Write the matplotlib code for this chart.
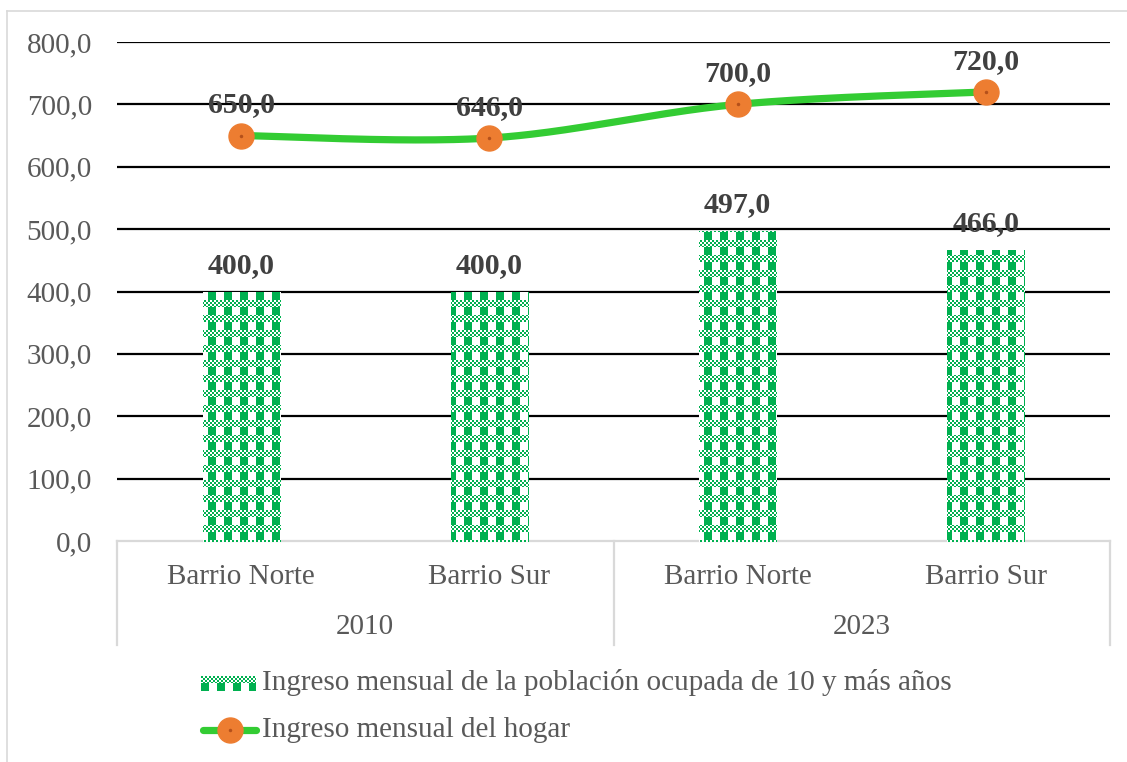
import matplotlib.pyplot as plt
import numpy as np
from matplotlib.lines import Line2D

categorias = ["Barrio Norte", "Barrio Sur", "Barrio Norte", "Barrio Sur"]
anios = ["2010", "2023"]
ingreso_ocupada = [400.0, 400.0, 497.0, 466.0]
ingreso_hogar = [650.0, 646.0, 700.0, 720.0]
y_ticks = [0, 100, 200, 300, 400, 500, 600, 700, 800]
serie_barras = "Ingreso mensual de la población ocupada de 10 y más años"
serie_linea = "Ingreso mensual del hogar"

W, H = 1127, 762
VERDE = "#00B050"
VERDE_LINEA = "#33CC33"
NARANJA = "#ED7D31"
GRIS_TEXTO = "#595959"
GRIS_EJE = "#D9D9D9"

plt.rcParams["font.family"] = ["Liberation Serif", "DejaVu Serif"]


def px(x, y):
    # pixel (desde arriba-izquierda) a fraccion de figura
    return x / W, 1 - y / H


def patron(alto, ancho):
    img = np.ones((alto, ancho, 4))
    yy, xx = np.mgrid[0:alto, 0:ancho]
    fila = yy % 15
    cuadro = ((xx // 2 + yy // 2) % 2 == 0) & (fila < 7)
    bloque = (fila >= 7) & (xx % 16 < 8)
    mask = cuadro | bloque
    rgb = np.array([0x00, 0xB0, 0x50]) / 255
    img[mask, :3] = rgb
    return img


def suavizar(xs, ys, sx, sy, n=60):
    # curva tipo Excel (Catmull-Rom -> Bezier) en espacio de pixeles
    p = np.column_stack([np.asarray(xs) * sx, np.asarray(ys) * sy])
    p = np.vstack([p[0], p, p[-1]])
    t = np.linspace(0, 1, n)[:, None]
    out = []
    for i in range(1, len(p) - 2):
        p0, p1, p2, p3 = p[i - 1], p[i], p[i + 1], p[i + 2]
        c1 = p1 + (p2 - p0) / 6
        c2 = p2 - (p3 - p1) / 6
        seg = ((1 - t) ** 3) * p1 + 3 * ((1 - t) ** 2) * t * c1 + 3 * (1 - t) * t ** 2 * c2 + t ** 3 * p2
        out.append(seg)
    out = np.vstack(out)
    return out[:, 0] / sx, out[:, 1] / sy


fig = plt.figure(figsize=(W / 100, H / 100), dpi=100)
left, right, top, bottom = 117, 1110, 42, 541
ax = fig.add_axes([left / W, 1 - bottom / H, (right - left) / W, (bottom - top) / H])

x = np.arange(len(categorias))
ax.set_xlim(-0.5, len(categorias) - 0.5)
ax.set_ylim(0, 800)

for yt in y_ticks[1:]:
    ax.axhline(yt, color="black", lw=1.6, zorder=1)

barras = ax.bar(x, ingreso_ocupada, width=0.31, color="none", edgecolor="none", zorder=2)
textura = patron(H, W)
for b in barras:
    im = fig.figimage(textura, 0, 0, origin="upper", zorder=1.5)
    im.set_clip_path(b)

for xi, v in zip(x, ingreso_ocupada):
    ax.annotate(f"{v:.1f}".replace(".", ","), (xi, v), xytext=(0, 19), textcoords="offset points",
                ha="center", va="center", fontsize=21.5, fontweight="bold", color="#404040", zorder=5)

sx = (right - left) / len(categorias)
sy = (bottom - top) / 800
cx, cy = suavizar(x, ingreso_hogar, sx, sy)
ax.plot(cx, cy, color=VERDE_LINEA, lw=5.2, solid_capstyle="round", zorder=3)
ax.plot(x, ingreso_hogar, "o", ms=18, color=NARANJA, mec=NARANJA, zorder=4)
ax.plot(x, ingreso_hogar, "o", ms=2.5, color="#B5501A", mec="none", zorder=4)

for xi, v in zip(x, ingreso_hogar):
    ax.annotate(f"{v:.1f}".replace(".", ","), (xi, v), xytext=(0, 22), textcoords="offset points",
                ha="center", va="center", fontsize=21.5, fontweight="bold", color="#404040", zorder=5)

ax.set_yticks(y_ticks)
ax.set_yticklabels([f"{t:.1f}".replace(".", ",") for t in y_ticks])
ax.tick_params(axis="y", length=0, pad=18, labelsize=21, labelcolor=GRIS_TEXTO)
ax.set_xticks([])
for s in ["top", "left", "right"]:
    ax.spines[s].set_visible(False)
ax.spines["bottom"].set_color(GRIS_EJE)
ax.spines["bottom"].set_linewidth(1.6)

xt = ax.get_xaxis_transform()
alto_ax = bottom - top
for xi, c in zip(x, categorias):
    ax.text(xi, -(577 - bottom) / alto_ax, c, transform=xt, ha="center", va="center",
            fontsize=21, color=GRIS_TEXTO)
for i, a in enumerate(anios):
    ax.text(2 * i + 0.5, -(627 - bottom) / alto_ax, a, transform=xt, ha="center", va="center",
            fontsize=21, color=GRIS_TEXTO)
for xs in [-0.5, 1.5, 3.5]:
    ax.plot([xs, xs], [0, -(645 - bottom) / alto_ax], transform=xt, color=GRIS_EJE,
            lw=1.6, clip_on=False)

# borde del area del grafico
fig.add_artist(Line2D([px(7, 0)[0]] * 2, [px(0, 11)[1], 0], color=GRIS_EJE, lw=1.2))
fig.add_artist(Line2D([px(7, 0)[0], 1], [px(0, 11)[1]] * 2, color=GRIS_EJE, lw=1.2))

# leyenda
leyenda = patron(15, 55)
fig.figimage(leyenda, 201, H - 691, origin="upper", zorder=3)
fig.text(*px(262, 683), serie_barras, ha="left", va="center", fontsize=21, color=GRIS_TEXTO)
lx0, ly = px(203, 730)
lx1, _ = px(256, 730)
fig.add_artist(Line2D([lx0, lx1], [ly, ly], color=VERDE_LINEA, lw=5.2, solid_capstyle="round"))
fig.add_artist(Line2D([(lx0 + lx1) / 2], [ly], marker="o", ms=18, color=NARANJA, mec=NARANJA))
fig.add_artist(Line2D([(lx0 + lx1) / 2], [ly], marker="o", ms=2.5, color="#B5501A", mec="none"))
fig.text(*px(262, 730), serie_linea, ha="left", va="center", fontsize=21, color=GRIS_TEXTO)

fig.savefig("out.png", dpi=100)
